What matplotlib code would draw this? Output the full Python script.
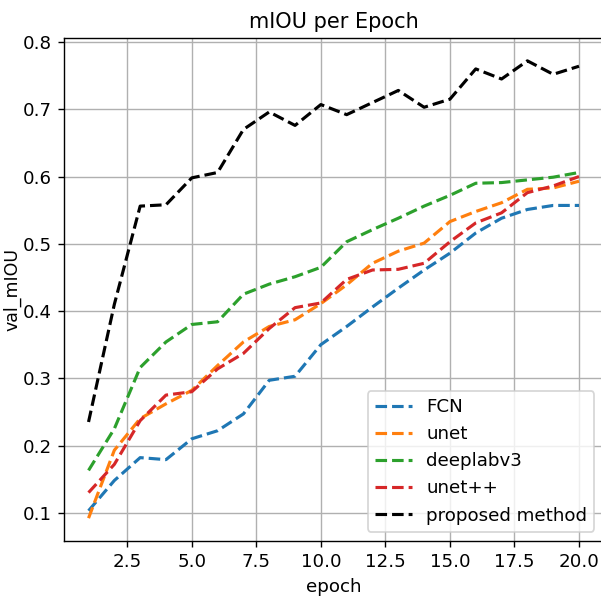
import matplotlib
matplotlib.use("Agg")
import matplotlib.pyplot as plt

epochs = list(range(1, 21))
fcn = [0.103, 0.148, 0.182, 0.179, 0.210, 0.222, 0.247, 0.297, 0.303, 0.350,
       0.377, 0.406, 0.434, 0.461, 0.486, 0.516, 0.538, 0.551, 0.557, 0.557]
unet = [0.092, 0.193, 0.240, 0.262, 0.282, 0.319, 0.354, 0.377, 0.387, 0.411,
        0.439, 0.471, 0.489, 0.501, 0.533, 0.548, 0.561, 0.581, 0.583, 0.593]
deeplab = [0.163, 0.225, 0.316, 0.354, 0.380, 0.384, 0.425, 0.440, 0.451, 0.465,
           0.503, 0.521, 0.538, 0.556, 0.572, 0.590, 0.591, 0.595, 0.599, 0.606]
unetpp = [0.130, 0.172, 0.237, 0.275, 0.280, 0.314, 0.337, 0.374, 0.405, 0.412,
          0.447, 0.461, 0.462, 0.471, 0.503, 0.531, 0.546, 0.576, 0.586, 0.600]
proposed = [0.235, 0.410, 0.556, 0.558, 0.598, 0.606, 0.670, 0.696, 0.676, 0.707,
            0.692, 0.710, 0.728, 0.703, 0.715, 0.760, 0.745, 0.772, 0.752, 0.764]

series = [("FCN", fcn, "#1f77b4"), ("unet", unet, "#ff7f0e"),
          ("deeplabv3", deeplab, "#2ca02c"), ("unet++", unetpp, "#d62728"),
          ("proposed method", proposed, "black")]

plt.rcParams["font.family"] = ["DejaVu Sans"]
plt.rcParams["font.size"] = 10.5

fig = plt.figure(figsize=(601/125, 601/125), dpi=125)
ax = fig.add_axes([0.1065, 0.0998, 0.8977, 0.837])
for name, vals, c in series:
    ax.plot(epochs, vals, linestyle="--", color=c, label=name, linewidth=1.8)
ax.grid(True)
ax.set_title("mIOU per Epoch", fontsize=12)
ax.set_xlabel("epoch")
ax.set_ylabel("val_mIOU", fontsize=10)
ax.yaxis.set_label_coords(-0.078, 0.5)
ax.legend(loc="lower right", bbox_to_anchor=(1.0, 0.0), borderaxespad=0.5,
          labelspacing=0.5)
fig.savefig("out.png", dpi=125)
